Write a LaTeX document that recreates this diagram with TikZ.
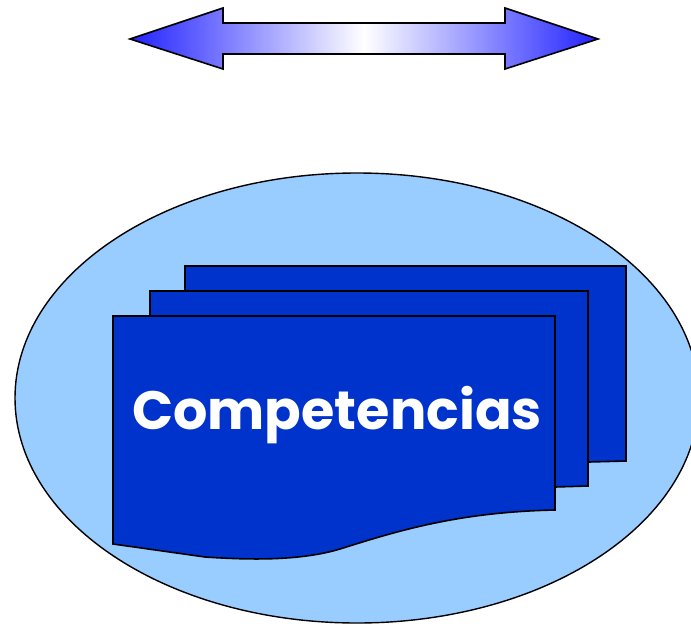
\documentclass[tikz,border=0pt]{standalone}
\usepackage{fontspec}
\newfontfamily\compfont{Poppins}
\usetikzlibrary{shadings}
\definecolor{cielo}{HTML}{99CCFF}
\definecolor{hoja}{HTML}{0033CC}
\definecolor{punta}{HTML}{2222FF}
\tikzset{
  hojadoc/.style={draw=black,line width=1.6pt,fill=hoja},
  flecha/.style={draw=black,line width=1.6pt,left color=punta,right color=punta,middle color=white}
}

\begin{document}
\begin{tikzpicture}[x=1pt,y=-1pt]
  \useasboundingbox (0,0) rectangle (691,624);
  \begin{scope}
  \clip (0,0) rectangle (691,624);
  % fondo
  \draw[fill=cielo,line width=1.4pt] (357,398) ellipse [x radius=342,y radius=225];
  % flecha doble
  \draw[flecha] (130,39) -- (223,8) -- (223,23) -- (505,23) -- (505,8) -- (598,39)
     -- (505,69) -- (505,54) -- (223,54) -- (223,69) -- cycle;
  % hojas de atras
  \draw[hojadoc] (185,266) -- (626,266) -- (626,461) -- (589,462)
     .. controls (520,464) and (470,478) .. (420,492) -- (185,500) -- cycle;
  \draw[hojadoc] (150,291) -- (588,291) -- (588,486) -- (555,487)
     .. controls (500,489) and (450,502) .. (400,515) -- (150,520) -- cycle;
  % hoja de adelante
  \draw[hojadoc] (113,316) -- (555,316) -- (555,510)
     .. controls (460,512) and (400,530) .. (340,549)
     .. controls (300,561) and (250,560) .. (205,557)
     -- (113,544) -- cycle;
  \end{scope}
  %\draw (337,413) node {Competencias};
  \node[text=white,font=\compfont\bfseries\fontsize{54}{54}\selectfont] (comp) at (337,415) {Competencias};
\end{tikzpicture}
\end{document}
